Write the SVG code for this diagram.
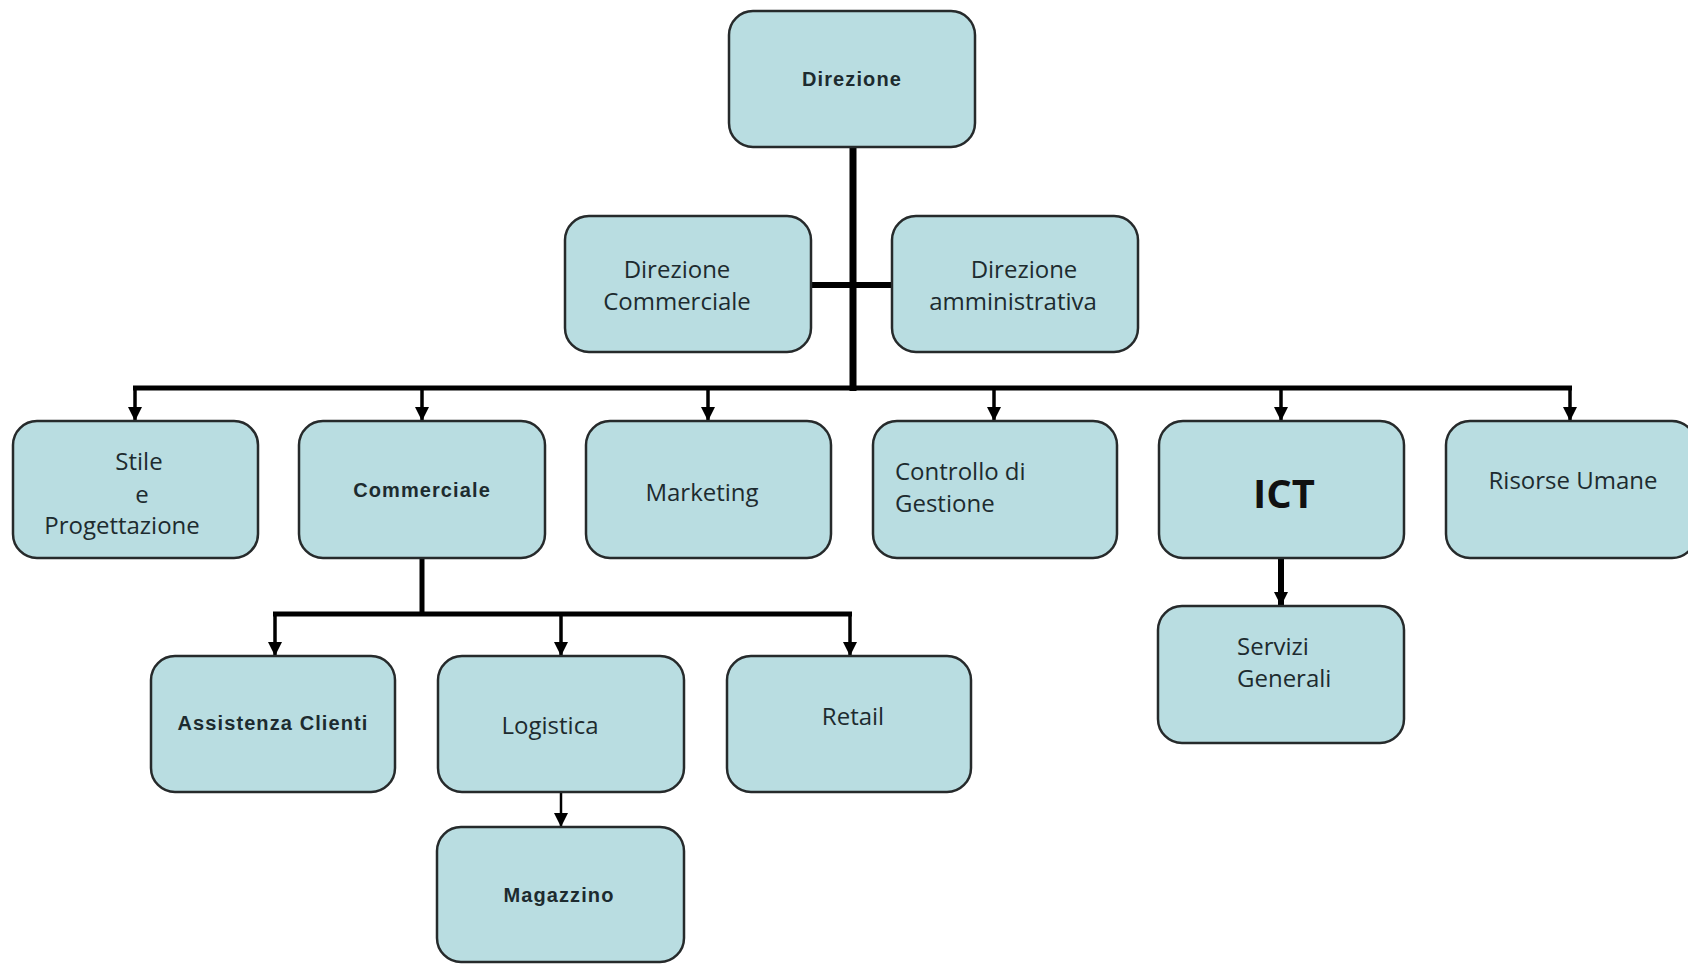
<svg xmlns="http://www.w3.org/2000/svg" width="1688" height="964" viewBox="0 0 1688 964">
  <style>
    .box { fill: #b9dde1; stroke: #262a2b; stroke-width: 2.5; }
    .t { font-family: "Open Sans", "Liberation Sans", sans-serif; font-size: 24px; fill: #1d2b2f; }
    .b { font-family: "Liberation Sans", Arial, sans-serif; font-weight: bold; font-size: 20px; fill: #1d2b2f; letter-spacing: 1.1px; }
    .c { text-anchor: middle; }
    .wire { stroke: #000; fill: none; stroke-linecap: butt; }
  </style>
  <defs>
    <marker id="ah" markerUnits="userSpaceOnUse" markerWidth="14" markerHeight="14" refX="14" refY="7" orient="auto">
      <path d="M0,0 L14,7 L0,14 z" fill="#000"/>
    </marker>
  </defs>
  <rect width="1688" height="964" fill="#fff"/>

  <!-- connectors -->
  <g id="connectors" class="wire">
    <!-- trunk from Direzione down to main bus -->
    <line x1="853" y1="147" x2="853" y2="391" stroke-width="7"/>
    <line x1="811" y1="285" x2="892" y2="285" stroke-width="6"/>
    <!-- main bus -->
    <line x1="133" y1="388" x2="1572" y2="388" stroke-width="5"/>
    <!-- drops to second row -->
    <line x1="135" y1="388" x2="135" y2="421" stroke-width="3.5" marker-end="url(#ah)"/>
    <line x1="422" y1="388" x2="422" y2="421" stroke-width="3.5" marker-end="url(#ah)"/>
    <line x1="708" y1="388" x2="708" y2="421" stroke-width="3.5" marker-end="url(#ah)"/>
    <line x1="994" y1="388" x2="994" y2="421" stroke-width="3.5" marker-end="url(#ah)"/>
    <line x1="1281" y1="388" x2="1281" y2="421" stroke-width="3.5" marker-end="url(#ah)"/>
    <line x1="1570" y1="388" x2="1570" y2="421" stroke-width="3.5" marker-end="url(#ah)"/>
    <!-- Commerciale sub-bus -->
    <line x1="422" y1="558" x2="422" y2="614" stroke-width="5"/>
    <line x1="273" y1="614" x2="852" y2="614" stroke-width="5"/>
    <line x1="275" y1="614" x2="275" y2="656" stroke-width="3.5" marker-end="url(#ah)"/>
    <line x1="561" y1="614" x2="561" y2="656" stroke-width="3.5" marker-end="url(#ah)"/>
    <line x1="850" y1="614" x2="850" y2="656" stroke-width="3.5" marker-end="url(#ah)"/>
    <!-- Logistica to Magazzino -->
    <line x1="561" y1="792" x2="561" y2="827" stroke-width="2.5" marker-end="url(#ah)"/>
    <!-- ICT to Servizi Generali -->
    <line x1="1281" y1="558" x2="1281" y2="606" stroke-width="6" marker-end="url(#ah)"/>
  </g>

  <g id="direzione">
    <rect class="box" x="729" y="11" width="246" height="136" rx="24"/>
    <text class="b c" x="852" y="86">Direzione</text>
  </g>
  <g id="direzione-commerciale">
    <rect class="box" x="565" y="216" width="246" height="136" rx="24"/>
    <text class="t c" x="677" y="278">Direzione</text>
    <text class="t c" x="677" y="310">Commerciale</text>
  </g>
  <g id="direzione-amministrativa">
    <rect class="box" x="892" y="216" width="246" height="136" rx="24"/>
    <text class="t c" x="1024" y="278">Direzione</text>
    <text class="t c" x="1013" y="310">amministrativa</text>
  </g>

  <g id="stile">
    <rect class="box" x="13" y="421" width="245" height="137" rx="24"/>
    <text class="t c" x="139" y="470">Stile</text>
    <text class="t c" x="142" y="503">e</text>
    <text class="t c" x="122" y="534">Progettazione</text>
  </g>
  <g id="commerciale">
    <rect class="box" x="299" y="421" width="246" height="137" rx="24"/>
    <text class="b c" x="422" y="497">Commerciale</text>
  </g>
  <g id="marketing">
    <rect class="box" x="586" y="421" width="245" height="137" rx="24"/>
    <text class="t c" x="702" y="501">Marketing</text>
  </g>
  <g id="controllo">
    <rect class="box" x="873" y="421" width="244" height="137" rx="24"/>
    <text class="t" x="895" y="480">Controllo di</text>
    <text class="t" x="895" y="512">Gestione</text>
  </g>
  <g id="ict">
    <rect class="box" x="1159" y="421" width="245" height="137" rx="24"/>
    <text class="c" x="1284" y="508" font-family="'Open Sans', 'Liberation Sans', sans-serif" font-weight="bold" font-size="40" fill="#111">ICT</text>
  </g>
  <g id="risorse-umane">
    <rect class="box" x="1446" y="421" width="250" height="137" rx="24"/>
    <text class="t c" x="1573" y="489">Risorse Umane</text>
  </g>

  <g id="assistenza-clienti">
    <rect class="box" x="151" y="656" width="244" height="136" rx="24"/>
    <text class="b c" x="273" y="730" letter-spacing="0">Assistenza Clienti</text>
  </g>
  <g id="logistica">
    <rect class="box" x="438" y="656" width="246" height="136" rx="24"/>
    <text class="t c" x="550" y="734">Logistica</text>
  </g>
  <g id="retail">
    <rect class="box" x="727" y="656" width="244" height="136" rx="24"/>
    <text class="t c" x="853" y="725">Retail</text>
  </g>
  <g id="magazzino">
    <rect class="box" x="437" y="827" width="247" height="135" rx="24"/>
    <text class="b c" x="559" y="902">Magazzino</text>
  </g>
  <g id="servizi-generali">
    <rect class="box" x="1158" y="606" width="246" height="137" rx="24"/>
    <text class="t" x="1237" y="655">Servizi</text>
    <text class="t" x="1237" y="687">Generali</text>
  </g>
</svg>
